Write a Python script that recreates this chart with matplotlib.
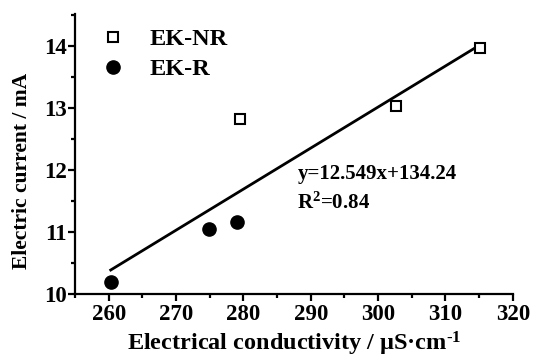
import numpy as np
import matplotlib
matplotlib.use("Agg")
import matplotlib.pyplot as plt
from matplotlib.ticker import MultipleLocator

plt.rcParams["font.family"] = ["Liberation Serif", "DejaVu Serif"]
plt.rcParams["font.weight"] = "bold"
plt.rcParams["mathtext.fontset"] = "custom"
plt.rcParams["mathtext.rm"] = "Liberation Serif:bold"
plt.rcParams["mathtext.bf"] = "Liberation Serif:bold"
plt.rcParams["mathtext.it"] = "Liberation Serif:bold"

# Conductivity (µS/cm) and current (mA) for each treatment
nr_conductivity = [279.5, 302.6, 315.1]
nr_current = [12.82, 13.04, 13.97]
r_conductivity = [260.3, 274.9, 279.0]
r_current = [10.20, 11.05, 11.16]

fig = plt.figure(figsize=(5.37, 3.59), dpi=100)
ax = fig.add_axes([0.1397, 0.181, 0.8153, 0.780])

ax.plot(nr_conductivity, nr_current, "s", ms=7.5, mfc="white", mec="black",
        mew=1.5, label="EK-NR", zorder=3)
ax.plot(r_conductivity, r_current, "o", ms=9.5, mfc="black", mec="black",
        label="EK-R", zorder=3)

# Linear fit through all points
x_all = np.array(r_conductivity + nr_conductivity)
y_all = np.array(r_current + nr_current)
k, b = np.polyfit(x_all, y_all, 1)
xf = np.array([x_all.min(), x_all.max()])
ax.plot(xf, k * xf + b, color="black", lw=2, zorder=2)

ax.text(288.0, 11.94, "y=12.549x+134.24", fontsize=15, fontweight="bold",
        ha="left", va="center")
ax.text(288.0, 11.47, r"R$^{2}$=0.84", fontsize=15, fontweight="bold",
        ha="left", va="center")

ax.set_xlim(255, 320)
ax.set_ylim(10, 14.52)
ax.xaxis.set_major_locator(MultipleLocator(10))
ax.xaxis.set_minor_locator(MultipleLocator(5))
ax.yaxis.set_major_locator(MultipleLocator(1))
ax.yaxis.set_minor_locator(MultipleLocator(0.5))

for side in ("top", "right"):
    ax.spines[side].set_visible(False)
for side in ("left", "bottom"):
    ax.spines[side].set_linewidth(1.6)

ax.tick_params(which="major", direction="out", length=5, width=1.6,
               labelsize=16.5, pad=2)
ax.tick_params(axis="y", which="major", pad=1)
ax.tick_params(which="minor", direction="out", length=3, width=1.6)
for lab in ax.get_xticklabels() + ax.get_yticklabels():
    lab.set_fontweight("bold")

ax.set_xlabel(r"Electrical conductivity / μS·cm$^{\text{-}1}$", fontsize=17.5,
              fontweight="bold", labelpad=4)
ax.set_ylabel("Electric current / mA", fontsize=15.5, fontweight="bold")
ax.yaxis.set_label_coords(-0.099, 0.439)

leg = ax.legend(loc="upper left", frameon=False,
                bbox_to_anchor=(0.01, 1.028), handlelength=1.0,
                handletextpad=1.0, labelspacing=0.33,
                prop={"weight": "bold", "size": 17.5})

fig.savefig("out.png", dpi=100, facecolor="white")
